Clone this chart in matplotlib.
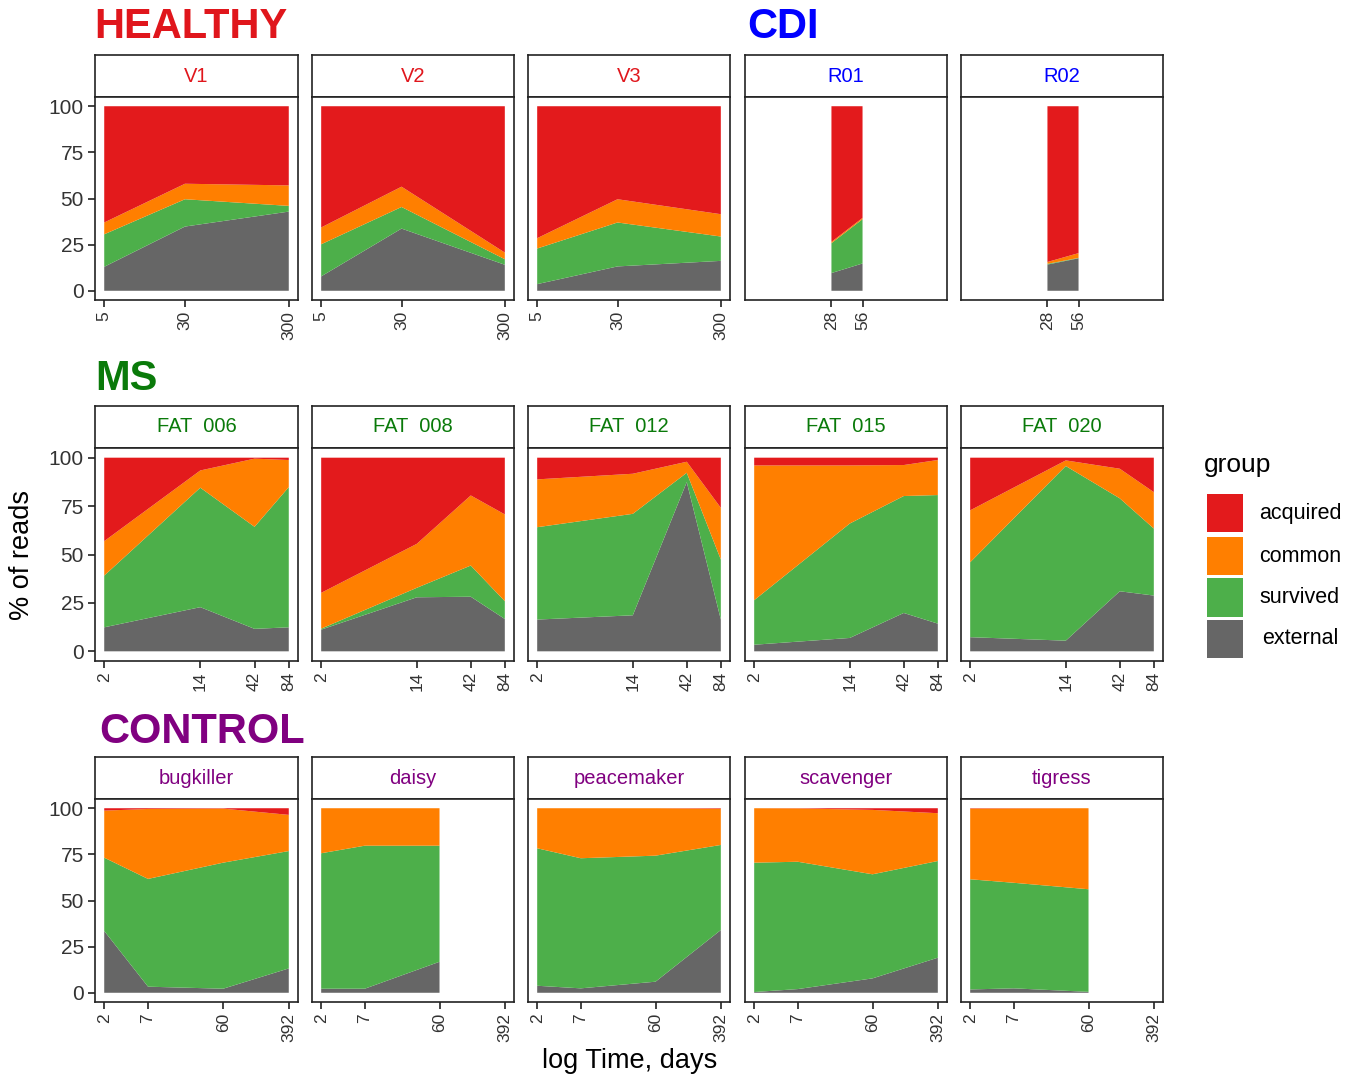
import matplotlib
matplotlib.use("Agg")
import matplotlib.pyplot as plt
import matplotlib.patches as mpatches
import numpy as np

plt.rcParams['font.family'] = ['Liberation Sans', 'DejaVu Sans']

# ---------------- data ----------------
groups = ["acquired", "common", "survived", "external"]
group_colors = {"acquired": "#E31A1C", "common": "#FF7F00",
                "survived": "#4DAF4A", "external": "#666666"}

# HEALTHY
t_healthy = [5, 30, 300]
V1_ext = [13.0, 34.8, 42.9]; V1_surv = [17.6, 14.8, 3.1]; V1_comm = [6.4, 8.4, 11.1]; V1_acq = [63.0, 42.0, 42.9]
V2_ext = [7.8, 33.7, 14.1]; V2_surv = [17.4, 11.7, 3.0]; V2_comm = [9.1, 11.0, 3.6]; V2_acq = [65.7, 43.6, 79.3]
V3_ext = [3.6, 13.2, 16.2]; V3_surv = [19.3, 23.8, 13.2]; V3_comm = [5.6, 12.6, 12.1]; V3_acq = [71.5, 50.4, 58.5]
# CDI
t_cdi = [28, 56]
R01_ext = [9.6, 14.8]; R01_surv = [16.2, 24.0]; R01_comm = [0.7, 0.7]; R01_acq = [73.5, 60.5]
R02_ext = [14.2, 17.6]; R02_surv = [0.4, 0.2]; R02_comm = [1.0, 2.6]; R02_acq = [84.4, 79.6]
row1_ticks = [5, 30, 300]
# MS
t_ms = [2, 14, 42, 84]
F006_ext = [12.4, 22.8, 11.6, 12.4]; F006_surv = [26.7, 61.7, 52.7, 72.4]; F006_comm = [17.8, 8.9, 35.2, 14.0]; F006_acq = [43.1, 6.6, 0.5, 1.2]
F008_ext = [11.2, 27.9, 28.2, 16.7]; F008_surv = [0.5, 4.9, 16.1, 9.2]; F008_comm = [18.5, 22.7, 36.2, 44.8]; F008_acq = [69.8, 44.5, 19.5, 29.3]
F012_ext = [16.4, 18.6, 87.4, 16.4]; F012_surv = [47.7, 52.4, 4.8, 31.0]; F012_comm = [24.7, 20.7, 5.7, 26.7]; F012_acq = [11.2, 8.3, 2.1, 25.9]
F015_ext = [3.4, 6.9, 19.8, 14.3]; F015_surv = [23.0, 59.1, 60.4, 66.4]; F015_comm = [69.6, 30.0, 16.0, 18.1]; F015_acq = [4.0, 4.0, 3.8, 1.2]
F020_ext = [7.3, 5.5, 31.0, 28.8]; F020_surv = [38.7, 90.2, 48.0, 34.6]; F020_comm = [26.8, 2.9, 15.3, 18.8]; F020_acq = [27.2, 1.4, 5.7, 17.8]
row2_ticks = [2, 14, 42, 84]
# CONTROL
t_ctrl4 = [2, 7, 60, 392]
t_ctrl3 = [2, 7, 60]
bug_ext = [33.5, 3.3, 2.2, 13.2]; bug_surv = [39.7, 58.4, 68.3, 63.6]; bug_comm = [25.5, 37.9, 29.3, 19.6]; bug_acq = [1.3, 0.4, 0.2, 3.6]
dai_ext = [2.2, 2.2, 16.8]; dai_surv = [73.4, 77.5, 62.9]; dai_comm = [24.4, 20.3, 20.3]; dai_acq = [0.0, 0.0, 0.0]
pea_ext = [3.8, 2.4, 6.0, 34.0]; pea_surv = [74.5, 70.5, 68.3, 46.1]; pea_comm = [21.7, 27.1, 25.7, 19.6]; pea_acq = [0.0, 0.0, 0.0, 0.3]
sca_ext = [0.4, 2.0, 7.8, 19.0]; sca_surv = [70.1, 69.0, 56.4, 52.4]; sca_comm = [29.5, 28.9, 34.9, 25.9]; sca_acq = [0.0, 0.1, 0.9, 2.7]
tig_ext = [1.8, 2.4, 0.5]; tig_surv = [59.7, 57.2, 55.6]; tig_comm = [38.3, 40.3, 43.9]; tig_acq = [0.2, 0.1, 0.0]
row3_ticks = [2, 7, 60, 392]

y_ticks = [0, 25, 50, 75, 100]

panels = [
    # row, col, label, color, times, ext, surv, comm, acq, ticks
    (0, 0, "V1", "#E0161C", t_healthy, V1_ext, V1_surv, V1_comm, V1_acq, row1_ticks),
    (0, 1, "V2", "#E0161C", t_healthy, V2_ext, V2_surv, V2_comm, V2_acq, row1_ticks),
    (0, 2, "V3", "#E0161C", t_healthy, V3_ext, V3_surv, V3_comm, V3_acq, row1_ticks),
    (0, 3, "R01", "#0000FF", t_cdi, R01_ext, R01_surv, R01_comm, R01_acq, t_cdi),
    (0, 4, "R02", "#0000FF", t_cdi, R02_ext, R02_surv, R02_comm, R02_acq, t_cdi),
    (1, 0, "FAT  006", "#0A7A0A", t_ms, F006_ext, F006_surv, F006_comm, F006_acq, row2_ticks),
    (1, 1, "FAT  008", "#0A7A0A", t_ms, F008_ext, F008_surv, F008_comm, F008_acq, row2_ticks),
    (1, 2, "FAT  012", "#0A7A0A", t_ms, F012_ext, F012_surv, F012_comm, F012_acq, row2_ticks),
    (1, 3, "FAT  015", "#0A7A0A", t_ms, F015_ext, F015_surv, F015_comm, F015_acq, row2_ticks),
    (1, 4, "FAT  020", "#0A7A0A", t_ms, F020_ext, F020_surv, F020_comm, F020_acq, row2_ticks),
    (2, 0, "bugkiller", "#800080", t_ctrl4, bug_ext, bug_surv, bug_comm, bug_acq, row3_ticks),
    (2, 1, "daisy", "#800080", t_ctrl3, dai_ext, dai_surv, dai_comm, dai_acq, row3_ticks),
    (2, 2, "peacemaker", "#800080", t_ctrl4, pea_ext, pea_surv, pea_comm, pea_acq, row3_ticks),
    (2, 3, "scavenger", "#800080", t_ctrl4, sca_ext, sca_surv, sca_comm, sca_acq, row3_ticks),
    (2, 4, "tigress", "#800080", t_ctrl3, tig_ext, tig_surv, tig_comm, tig_acq, row3_ticks),
]
row_ranges = [(5, 300), (2, 84), (2, 392)]

# ---------------- layout ----------------
W, H = 1360, 1077
fig = plt.figure(figsize=(W / 100, H / 100), dpi=100)
fig.patch.set_facecolor("white")

def axes_px(x0, y0, x1, y1):
    return fig.add_axes([x0 / W, 1 - y1 / H, (x1 - x0) / W, (y1 - y0) / H])

cols = [(95, 298), (312, 514), (528, 730), (745, 947), (961, 1163)]
rows = [(55, 97, 300), (406, 448, 661), (757, 799, 1002)]
LW = 1.2

for (r, c, label, tcol, times, ext, surv, comm, acq, ticks) in panels:
    x0, x1 = cols[c]
    s0, s1, p1 = rows[r]
    # strip
    sax = axes_px(x0, s0, x1, s1)
    sax.set_xticks([]); sax.set_yticks([])
    for sp in sax.spines.values():
        sp.set_linewidth(LW); sp.set_color("#222222")
    sax.text(0.5, 0.5, label, color=tcol, fontsize=14.5, ha="center", va="center",
             transform=sax.transAxes)
    # panel
    ax = axes_px(x0, s1, x1, p1)
    ax.stackplot(times, ext, surv, comm, acq,
                 colors=[group_colors["external"], group_colors["survived"],
                         group_colors["common"], group_colors["acquired"]],
                 linewidth=0)
    ax.set_xscale("log")
    lo, hi = np.log10(row_ranges[r][0]), np.log10(row_ranges[r][1])
    d = hi - lo
    ax.set_xlim(10 ** (lo - 0.05 * d), 10 ** (hi + 0.05 * d))
    ax.set_ylim(-5, 105)
    ax.xaxis.set_minor_locator(matplotlib.ticker.NullLocator())
    ax.set_xticks(ticks)
    ax.set_xticklabels([str(t) for t in ticks], rotation=90, fontsize=12.5, color="#333333")
    ax.set_yticks(y_ticks)
    if c == 0:
        ax.set_yticklabels([str(v) for v in y_ticks], fontsize=15, color="#333333")
    else:
        ax.tick_params(axis="y", left=False, labelleft=False)
    ax.tick_params(axis="both", direction="out", length=5, width=LW, color="#222222", pad=3)
    for sp in ax.spines.values():
        sp.set_linewidth(LW); sp.set_color("#222222")

# row titles
title_fs = 30
fig.text(94 / W, 1 - 27 / H, "HEALTHY", color="#E0161C", fontsize=title_fs, fontweight="bold",
         ha="left", va="center")
fig.text(747 / W, 1 - 27 / H, "CDI", color="#0000FF", fontsize=title_fs, fontweight="bold",
         ha="left", va="center")
fig.text(95 / W, 1 - 379 / H, "MS", color="#0A7A0A", fontsize=title_fs, fontweight="bold",
         ha="left", va="center")
fig.text(99 / W, 1 - 732 / H, "CONTROL", color="#800080", fontsize=title_fs, fontweight="bold",
         ha="left", va="center")

# axis titles
fig.text(22 / W, 1 - 555 / H, "% of reads", rotation=90, fontsize=19.5, ha="center", va="center")
fig.text(630 / W, 1 - 1061 / H, "log Time, days", fontsize=19.5, ha="center", va="center")

# legend
fig.text(1204 / W, 1 - 465 / H, "group", fontsize=19, ha="left", va="center")
key_y = [(494, 532), (537, 575), (578, 617), (620, 658)]
for g, (ya, yb) in zip(groups, key_y):
    rect = mpatches.Rectangle((1207 / W, 1 - yb / H), 36 / W, (yb - ya) / H,
                              transform=fig.transFigure, facecolor=group_colors[g],
                              edgecolor="none")
    fig.patches.append(rect)
    fig.text(1300 / W, 1 - (ya + yb) / 2 / H, g, fontsize=15.5, ha="center", va="center")

fig.savefig("out.png", dpi=100)
